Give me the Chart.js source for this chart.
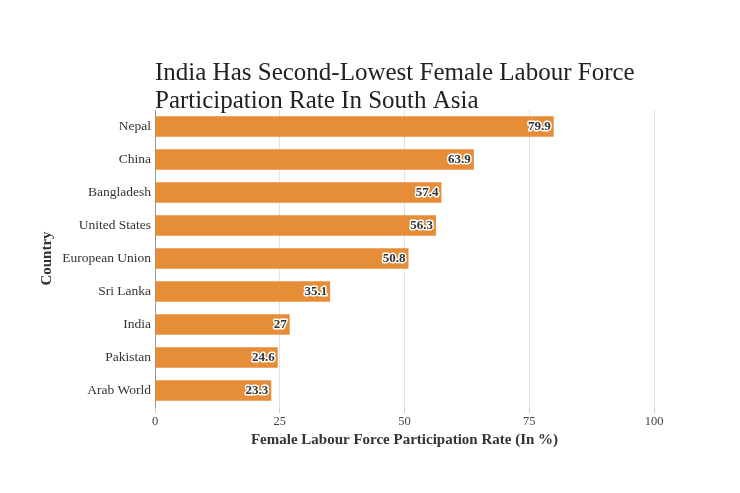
<!DOCTYPE html>
<html>
<head>
<meta charset="utf-8">
<script src="https://cdn.jsdelivr.net/npm/chart.js@4/dist/chart.umd.min.js"></script>
<style>
  html, body { margin: 0; padding: 0; background: #fff; }
  #wrap { width: 740px; height: 493px; }
</style>
</head>
<body>
<div id="wrap"><canvas id="chart" width="740" height="493"></canvas></div>
<script>
// datos del gráfico
const countries = ['Nepal', 'China', 'Bangladesh', 'United States', 'European Union', 'Sri Lanka', 'India', 'Pakistan', 'Arab World'];
const rates = [79.9, 63.9, 57.4, 56.3, 50.8, 35.1, 27, 24.6, 23.3];
const xTicks = [0, 25, 50, 75, 100];

const titleLines = ['India Has Second-Lowest Female Labour Force', 'Participation Rate In South Asia'];
const serif = '"Liberation Serif", "DejaVu Serif", serif';

// titulo y etiquetas de valor dibujados a mano
const extras = {
    id: 'extras',
    afterDatasetsDraw(chart) {
        const ctx = chart.ctx;
        const area = chart.chartArea;
        ctx.save();
        ctx.fillStyle = '#222';
        ctx.font = '25px ' + serif;
        ctx.textAlign = 'left';
        ctx.textBaseline = 'alphabetic';
        ctx.fillText(titleLines[0], area.left, 80);
        ctx.fillText(titleLines[1], area.left, 108);

        const meta = chart.getDatasetMeta(0);
        ctx.font = 'bold 13px ' + serif;
        ctx.textAlign = 'right';
        ctx.textBaseline = 'middle';
        ctx.lineJoin = 'round';
        meta.data.forEach((bar, i) => {
            const label = String(rates[i]);
            const x = bar.x - 3;
            ctx.lineWidth = 3;
            ctx.strokeStyle = '#fff';
            ctx.strokeText(label, x, bar.y);
            ctx.fillStyle = '#333';
            ctx.fillText(label, x, bar.y);
        });
        ctx.restore();
    }
};

new Chart(document.getElementById('chart').getContext('2d'), {
    type: 'bar',
    data: {
        labels: countries,
        datasets: [{
            data: rates,
            backgroundColor: '#E68D38',
            barPercentage: 0.62,
            categoryPercentage: 1
        }]
    },
    options: {
        indexAxis: 'y',
        responsive: false,
        animation: false,
        layout: { padding: { top: 110, right: 86, bottom: 40, left: 36 } },
        plugins: { legend: { display: false }, tooltip: { enabled: false }, title: { display: false } },
        scales: {
            x: {
                min: 0,
                max: 100,
                afterBuildTicks: s => { s.ticks = xTicks.map(v => ({ value: v })); },
                grid: { color: '#e2e2e2', drawTicks: true, tickLength: 6, tickColor: '#ccc' },
                border: { display: false },
                ticks: { color: '#444', font: { family: serif, size: 12.5 }, padding: 1 },
                title: { display: true, text: 'Female Labour Force Participation Rate (In %)', color: '#333', font: { family: serif, size: 15, weight: 'bold' }, padding: { top: 1 } }
            },
            y: {
                afterFit: s => { s.width = 119; },
                grid: { display: false, drawTicks: false },
                border: { display: true, color: '#999', width: 1 },
                ticks: { color: '#333', font: { family: serif, size: 13.5 }, padding: 4 },
                title: { display: true, text: 'Country', color: '#333', font: { family: serif, size: 15, weight: 'bold' }, padding: 2 }
            }
        }
    },
    plugins: [extras]
});
</script>
</body>
</html>
